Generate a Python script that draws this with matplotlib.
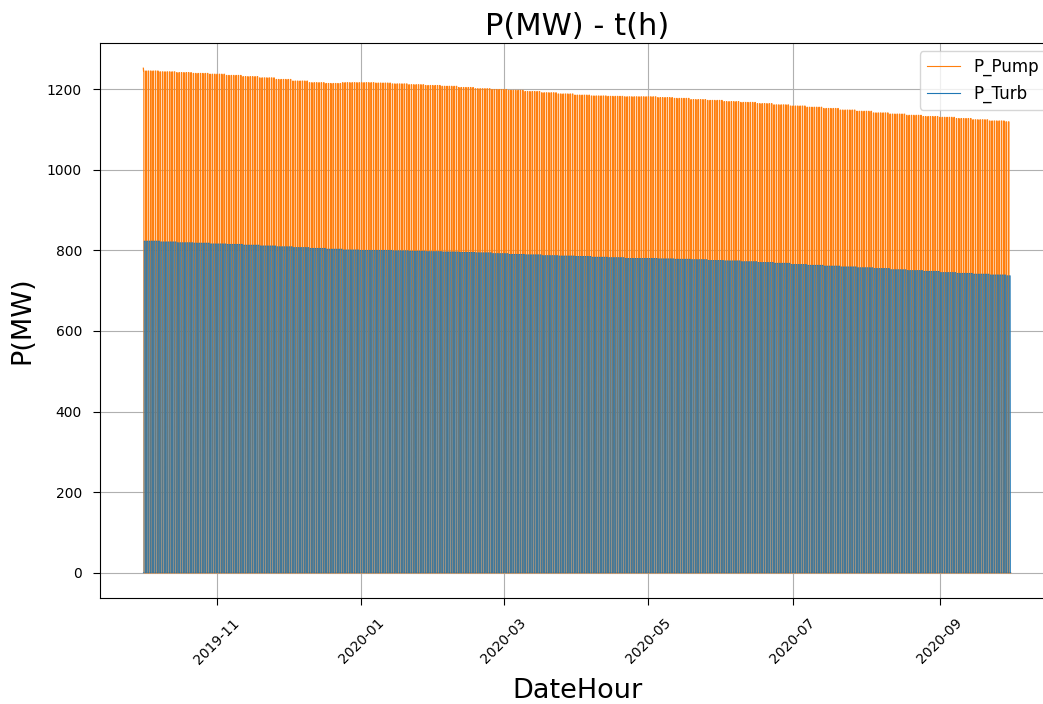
import numpy as np
import pandas as pd
import matplotlib
matplotlib.use("Agg")
import matplotlib.pyplot as plt
import matplotlib.dates as mdates

# ---- data ----
start_date = "2019-10-01"
n_days = 366
# weekly peak power levels (MW), one value per week starting 2019-10-01
pump_peak_weekly = [1245, 1243, 1241, 1239, 1237, 1234, 1231, 1228, 1224, 1220,
                    1216, 1214, 1216, 1216, 1215, 1213, 1211, 1209, 1207, 1204,
                    1201, 1199, 1197, 1194, 1191, 1188, 1185, 1183, 1182, 1181,
                    1181, 1179, 1177, 1174, 1172, 1169, 1167, 1164, 1161, 1158,
                    1155, 1152, 1148, 1145, 1141, 1138, 1135, 1132, 1130, 1127,
                    1124, 1121, 1119]
turb_peak_weekly = [823, 821, 819, 818, 816, 815, 813, 811, 809, 807,
                    805, 803, 801, 800, 800, 799, 798, 797, 796, 795,
                    794, 792, 790, 789, 787, 786, 785, 783, 782, 780,
                    780, 779, 778, 777, 775, 774, 772, 770, 768, 765,
                    763, 761, 759, 757, 755, 752, 750, 748, 745, 743,
                    741, 739, 737]
first_pump_value = 1252
# daily operating schedule (hours of the day)
pump_hours = [0, 1, 2, 3, 4, 5]
turb_hours = [8, 9, 10, 11, 12, 13, 14, 15, 16, 17, 18, 19]

# ---- build hourly series ----
idx = pd.date_range(start_date, periods=n_days * 24, freq="h")
day = np.arange(len(idx)) // 24
week = np.minimum(day // 7, len(pump_peak_weekly) - 1)
hour = idx.hour.values
pump_level = np.array(pump_peak_weekly)[week]
turb_level = np.array(turb_peak_weekly)[week]
p_pump = np.where(np.isin(hour, pump_hours), pump_level, 0.0).astype(float)
p_turb = np.where(np.isin(hour, turb_hours), turb_level, 0.0).astype(float)
p_pump[0] = first_pump_value

# ---- plot ----
fig = plt.figure(figsize=(10.43, 7.04), dpi=100)
ax = fig.add_axes([100 / 1043, 106 / 704, 954 / 1043, 555 / 704])
ax.plot(idx, p_pump, color="#ff7f0e", lw=0.9, label="P_Pump")
ax.plot(idx, p_turb, color="#1f77b4", lw=0.6, label="P_Turb")
ax.set_title("P(MW) - t(h)", fontsize=22, pad=6)
ax.set_xlabel("DateHour", fontsize=19.5, labelpad=8)
ax.set_ylabel("P(MW)", fontsize=19.5, labelpad=8)
ax.xaxis.set_major_locator(mdates.MonthLocator(bymonth=[1, 3, 5, 7, 9, 11]))
ax.xaxis.set_major_formatter(mdates.DateFormatter("%Y-%m"))
for lab in ax.get_xticklabels():
    lab.set_rotation(45)
ax.tick_params(labelsize=10, pad=8, length=5)
ax.grid(True)
leg = ax.legend(loc="upper right", fontsize=12)
for line in leg.get_lines():
    line.set_linewidth(0.8)
fig.savefig("out.png", dpi=100)
